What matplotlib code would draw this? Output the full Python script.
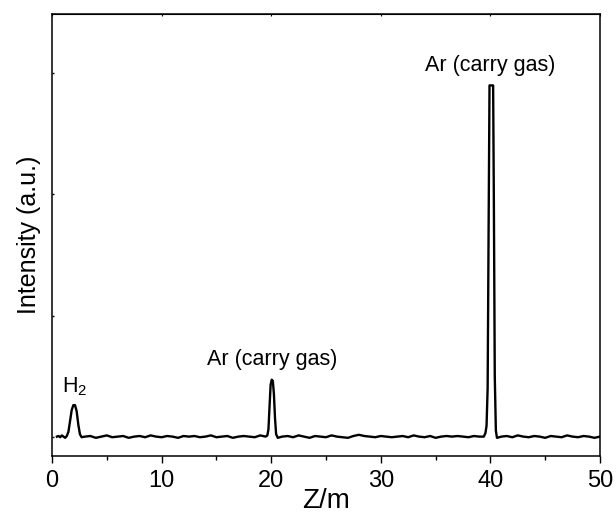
import matplotlib.pyplot as plt
from matplotlib.ticker import MultipleLocator

plt.rcParams['font.family'] = ['Liberation Sans', 'DejaVu Sans']
plt.rcParams['mathtext.fontset'] = 'custom'
plt.rcParams['mathtext.rm'] = 'Liberation Sans'

# mass spectrum
# start + H2 peak
mz_h2 = [0.45, 0.6, 0.75, 0.9, 1.05, 1.2, 1.35, 1.5,
         1.65, 1.8, 1.95, 2.1, 2.25, 2.4, 2.55, 2.7]
int_h2 = [0.0, 0.005, -0.005, 0.01, 0.0, -0.01, 0.005, 0.04,
          0.13, 0.22, 0.26, 0.26, 0.21, 0.1, 0.02, -0.005]
# baseline 3 - 19.5
mz_b1 = [3.0, 3.5, 4.0, 4.5, 5.0, 5.5, 6.0, 6.5, 7.0, 7.5,
         8.0, 8.5, 9.0, 9.5, 10.0, 10.5, 11.0, 11.5, 12.0, 12.5,
         13.0, 13.5, 14.0, 14.5, 15.0, 15.5, 16.0, 16.5, 17.0, 17.5,
         18.0, 18.5, 19.0, 19.5]
int_b1 = [0.0, 0.005, -0.01, 0.0, 0.01, -0.005, 0.0, 0.005, -0.01, 0.0,
          0.005, -0.005, 0.01, 0.0, -0.005, 0.005, 0.0, -0.01, 0.005, 0.0,
          0.005, -0.005, 0.0, 0.01, -0.005, 0.0, 0.005, -0.01, 0.0, 0.005,
          0.0, -0.005, 0.01, 0.0]
# Ar peak near 20
mz_ar20 = [19.65, 19.75, 19.85, 19.95, 20.05, 20.15, 20.25, 20.35, 20.45, 20.6]
int_ar20 = [0.01, 0.06, 0.25, 0.43, 0.47, 0.46, 0.35, 0.15, 0.02, -0.01]
# baseline 21 - 39
mz_b2 = [21.0, 21.5, 22.0, 22.5, 23.0, 23.5, 24.0, 24.5, 25.0, 25.5,
         26.0, 26.5, 27.0, 27.5, 28.0, 28.5, 29.0, 29.5, 30.0, 30.5,
         31.0, 31.5, 32.0, 32.5, 33.0, 33.5, 34.0, 34.5, 35.0, 35.5,
         36.0, 36.5, 37.0, 37.5, 38.0, 38.5, 39.0]
int_b2 = [0.0, 0.005, -0.005, 0.01, 0.0, -0.01, 0.005, 0.0, -0.005, 0.01,
          0.0, -0.005, -0.01, 0.005, 0.015, 0.005, 0.0, -0.005, 0.005, 0.0,
          -0.005, 0.0, 0.005, -0.005, 0.01, 0.0, -0.005, 0.005, -0.01, 0.0,
          0.005, 0.0, 0.005, 0.0, -0.005, 0.005, 0.0]
# Ar peak near 40
mz_ar40 = [39.4, 39.55, 39.65, 39.75, 39.85, 39.92, 40.25, 40.32, 40.4, 40.5, 40.6]
int_ar40 = [0.0, 0.03, 0.09, 0.4, 1.9, 2.9, 2.9, 1.9, 0.5, 0.05, -0.01]
# baseline 41 - 50
mz_b3 = [41.0, 41.5, 42.0, 42.5, 43.0, 43.5, 44.0, 44.5, 45.0, 45.5,
         46.0, 46.5, 47.0, 47.5, 48.0, 48.5, 49.0, 49.5, 50.0]
int_b3 = [0.0, 0.005, -0.005, 0.01, 0.0, -0.005, 0.005, 0.0, -0.01, 0.005,
          0.0, -0.005, 0.01, 0.0, -0.005, 0.005, 0.0, -0.01, 0.0]

mz = mz_h2 + mz_b1 + mz_ar20 + mz_b2 + mz_ar40 + mz_b3
intensity = int_h2 + int_b1 + int_ar20 + int_b2 + int_ar40 + int_b3

peak_labels = [r'$\mathregular{H_2}$', 'Ar (carry gas)', 'Ar (carry gas)']
label_x = [2.05, 20.1, 40.0]
label_y = [0.32, 0.55, 2.98]

fig = plt.figure(figsize=(6.16, 5.17), dpi=100)
ax = fig.add_axes([0.0844, 0.118, 0.8896, 0.855])

ax.plot(mz, intensity, color='black', lw=1.7)

for t, x, y in zip(peak_labels, label_x, label_y):
    ax.text(x, y, t, ha='center', va='bottom', fontsize=15.5)

ax.set_xlim(0, 50)
ax.set_ylim(-0.16, 3.49)
ax.xaxis.set_major_locator(MultipleLocator(10))
ax.xaxis.set_minor_locator(MultipleLocator(5))
ax.yaxis.set_major_locator(MultipleLocator(1))
ax.tick_params(axis='x', which='major', direction='out', length=5, width=1,
               labelsize=17, pad=5)
ax.tick_params(axis='x', which='minor', direction='out', length=3, width=1)
ax.tick_params(axis='y', which='major', direction='in', length=1.5, width=1,
               labelleft=False)
ax.secondary_xaxis('top').tick_params(which='both', direction='in', length=1.5,
                                      labeltop=False)
for s in ax.spines.values():
    s.set_linewidth(1.1)

ax.set_xlabel('Z/m', fontsize=20, labelpad=-3)
ax.set_ylabel('Intensity (a.u.)', fontsize=18, labelpad=8)

fig.savefig('out.png', dpi=100)
